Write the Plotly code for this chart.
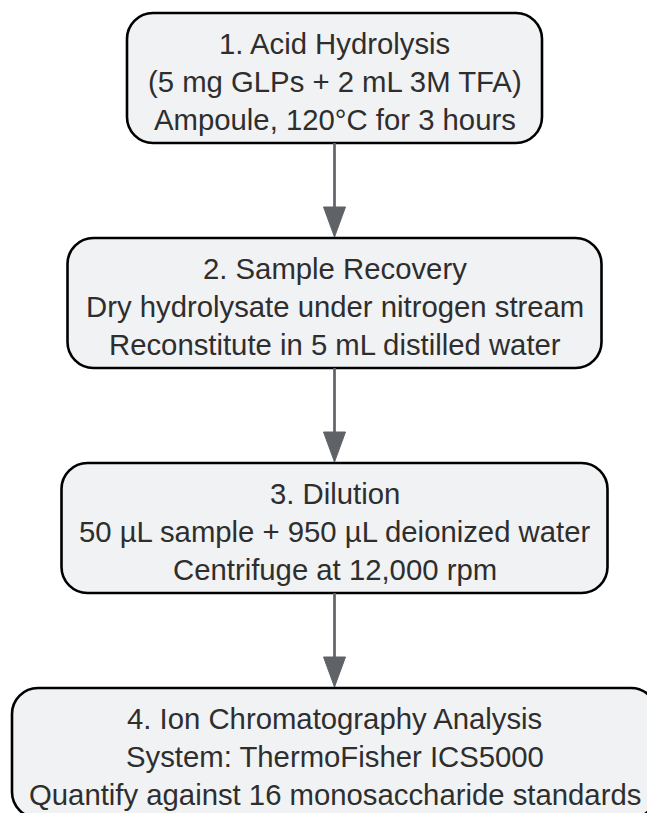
import plotly.graph_objects as go

# ---------------- data ----------------
step_titles = [
    "1. Acid Hydrolysis",
    "2. Sample Recovery",
    "3. Dilution",
    "4. Ion Chromatography Analysis",
]
step_details = [
    "(5 mg GLPs + 2 mL 3M TFA)",
    "Dry hydrolysate under nitrogen stream",
    "50 µL sample + 950 µL deionized water",
    "System: ThermoFisher ICS5000",
]
step_notes = [
    "Ampoule, 120°C for 3 hours",
    "Reconstitute in 5 mL distilled water",
    "Centrifuge at 12,000 rpm",
    "Quantify against 16 monosaccharide standards",
]
chart_title = "GLP Composition Analysis"

# ---------------- layout config ----------------
W, H = 647, 813
CX = 334.5
TOP0 = 13
PITCH = 225
BOX_H = 130
BOX_W = [415, 534, 546, 645]
RADIUS = 26
LINE_GAP = 38
FONT = "Liberation Sans, Arial, sans-serif"
FONT_SIZE = 29.3
FILL = "#f1f2f4"
EDGE = "#000000"
ARROW = "#5f6368"
TEXT = "#2e2e2e"


def rounded_rect(x0, y0, x1, y1, r):
    k = 0.5523 * r
    return (
        f"M {x0 + r},{y0} L {x1 - r},{y0} "
        f"C {x1 - r + k},{y0} {x1},{y0 + r - k} {x1},{y0 + r} "
        f"L {x1},{y1 - r} "
        f"C {x1},{y1 - r + k} {x1 - r + k},{y1} {x1 - r},{y1} "
        f"L {x0 + r},{y1} "
        f"C {x0 + r - k},{y1} {x0},{y1 - r + k} {x0},{y1 - r} "
        f"L {x0},{y0 + r} "
        f"C {x0},{y0 + r - k} {x0 + r - k},{y0} {x0 + r},{y0} Z"
    )


fig = go.Figure()
fig.add_trace(go.Scatter(x=[0, W], y=[0, H], mode="markers",
                         marker=dict(opacity=0), hoverinfo="skip", showlegend=False))

shapes = []
annotations = []
n = len(step_titles)
for i in range(n):
    top = TOP0 + i * PITCH
    bot = top + BOX_H
    cy = (top + bot) / 2
    half = BOX_W[i] / 2
    shapes.append(dict(type="path", xref="x", yref="y",
                       path=rounded_rect(CX - half, top, CX + half, bot, RADIUS),
                       fillcolor=FILL, line=dict(color=EDGE, width=2.6), layer="above"))
    for j, txt in enumerate([step_titles[i], step_details[i], step_notes[i]]):
        annotations.append(dict(x=CX, y=cy + 3 + (j - 1) * LINE_GAP, xref="x", yref="y",
                                text=txt, showarrow=False, xanchor="center", yanchor="middle",
                                font=dict(family=FONT, size=FONT_SIZE, color=TEXT)))
    if i < n - 1:
        next_top = TOP0 + (i + 1) * PITCH
        head_len = 31
        head_half = 11
        shapes.append(dict(type="line", xref="x", yref="y",
                           x0=CX, x1=CX, y0=bot, y1=next_top - head_len + 2,
                           line=dict(color=ARROW, width=2.7), layer="above"))
        shapes.append(dict(type="path", xref="x", yref="y",
                           path=(f"M {CX - head_half},{next_top - head_len} "
                                 f"L {CX + head_half},{next_top - head_len} "
                                 f"L {CX},{next_top - 1} Z"),
                           fillcolor=ARROW, line=dict(color=ARROW, width=1), layer="above"))

annotations.append(dict(x=315, y=2, xref="x", yref="y", text=chart_title, showarrow=False,
                        xanchor="center", yanchor="bottom",
                        font=dict(family=FONT, size=32, color="#000000")))

fig.update_layout(
    width=W, height=H,
    margin=dict(l=0, r=0, t=0, b=0),
    paper_bgcolor="white", plot_bgcolor="white",
    xaxis=dict(range=[0, W], visible=False, fixedrange=True),
    yaxis=dict(range=[H, 0], visible=False, fixedrange=True),
    shapes=shapes, annotations=annotations,
    showlegend=False,
)

fig.write_html(
    "out.html",
    config={"displayModeBar": False},
    post_script=("document.body.style.margin='0px';"
                 "document.body.style.overflow='hidden';"
                 "document.documentElement.style.overflow='hidden';"),
)
